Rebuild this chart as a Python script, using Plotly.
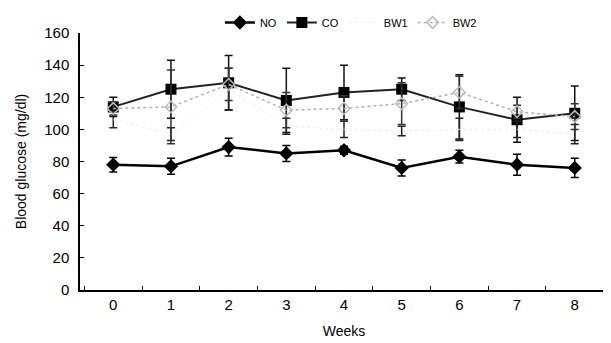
import plotly.graph_objects as go

weeks = ["0", "1", "2", "3", "4", "5", "6", "7", "8"]
no_mean = [78, 77, 89, 85, 87, 76, 83, 78, 76]
no_err = [4.5, 5, 5.5, 5, 2.5, 5, 4, 6.5, 6]
co_mean = [114, 125, 129, 118, 123, 125, 114, 106, 110]
co_err = [6, 18, 17, 20, 17, 7, 20, 14, 17]
bw1_mean = [106, 97, 125, 102, 100, 99, 100, 100, 97]
bw1_err = [5, 4, 13, 5, 5, 3, 7, 5, 6]
bw2_mean = [113, 114, 128, 112, 113, 116, 123, 111, 108]
bw2_err = [4, 23, 10, 11, 8, 13, 10, 4, 8]

fig = go.Figure()

fig.add_trace(go.Scatter(
    x=weeks, y=no_mean, name="NO", mode="lines+markers",
    line=dict(color="black", width=2.5),
    marker=dict(symbol="diamond", size=11, color="black"),
    error_y=dict(type="data", array=no_err, color="black", thickness=1.5, width=4),
))
fig.add_trace(go.Scatter(
    x=weeks, y=co_mean, name="CO", mode="lines+markers",
    line=dict(color="#222", width=2),
    marker=dict(symbol="square", size=11, color="black"),
    error_y=dict(type="data", array=co_err, color="#111", thickness=1.5, width=4),
))
fig.add_trace(go.Scatter(
    x=weeks, y=bw1_mean, name="BW1", mode="lines",
    line=dict(color="#eeeeee", width=1, dash="dot"),
    error_y=dict(type="data", array=bw1_err, color="#222", thickness=1.5, width=4),
))
fig.add_trace(go.Scatter(
    x=weeks, y=bw2_mean, name="BW2", mode="lines+markers",
    line=dict(color="#b0b0b0", width=1.5, dash="dot"),
    marker=dict(symbol="diamond-open", size=9, color="#bbbbbb", line=dict(width=1.5)),
    error_y=dict(type="data", array=bw2_err, color="#333", thickness=1.5, width=4),
))

fig.update_layout(
    width=611, height=343,
    margin=dict(l=72, r=11, t=25, b=61, autoexpand=False),
    paper_bgcolor="white", plot_bgcolor="white",
    font=dict(family="Liberation Sans, Arial, sans-serif", color="black", size=15),
    showlegend=True,
    legend=dict(orientation="h", x=0.265, xanchor="left", yref="container",
                y=1.0, yanchor="top",
                font=dict(size=11), itemwidth=30,
                bgcolor="rgba(0,0,0,0)"),
    xaxis=dict(
        type="category", tickson="boundaries", ticks="inside", ticklen=4,
        tickcolor="black", showline=True, linecolor="black", linewidth=1.5,
        showgrid=False, zeroline=False, automargin=False,
        title=dict(text="Weeks", font=dict(size=14), standoff=14),
        tickfont=dict(size=15),
    ),
    yaxis=dict(
        range=[0, 160], tickvals=[0, 20, 40, 60, 80, 100, 120, 140, 160],
        ticks="inside", ticklen=4, tickcolor="black",
        showline=True, linecolor="black", linewidth=1.5,
        showgrid=False, zeroline=False, automargin=False,
        ticklabelstandoff=6,
        title=dict(text="Blood glucose (mg/dl)", font=dict(size=14), standoff=14),
        tickfont=dict(size=15),
    ),
)

fig.write_html("out.html")
